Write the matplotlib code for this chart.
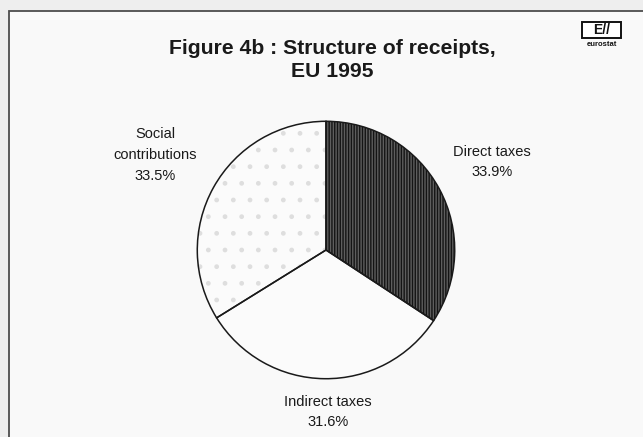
import matplotlib
matplotlib.use("Agg")
import matplotlib.pyplot as plt
from matplotlib.patches import Rectangle

# Receipts structure, EU 1995 (% of total receipts)
categories = ["Direct taxes", "Indirect taxes", "Social\ncontributions"]
shares = [33.9, 31.6, 33.5]
face_colors = ["#5e5e5e", "#fbfbfb", "#fbfbfb"]
hatch_colors = ["#141414", "#fbfbfb", "#dedede"]
hatches = ["||||||", None, "."]

title_lines = "Figure 4b : Structure of receipts,\nEU 1995"

W, H = 643, 437
DPI = 100
plt.rcParams["font.family"] = ["Liberation Sans", "DejaVu Sans"]
plt.rcParams["hatch.linewidth"] = 1.0

fig = plt.figure(figsize=(W / DPI, H / DPI), dpi=DPI, facecolor="#eeeeee")


def px(x, y):
    """Pixel position (from top-left) to figure fraction."""
    return x / W, 1 - y / H


# Outer panel frame
frame = Rectangle(px(9, H + 20), (W + 20) / W, (H + 20 - 11) / H,
                  transform=fig.transFigure, facecolor="#f9f9f9",
                  edgecolor="#4d4d4d", linewidth=1.3, zorder=-5)
fig.patches.append(frame)

# Title
fig.text(*px(332, 60), title_lines, ha="center", va="center",
         fontsize=15.2, fontweight="bold", color="#1a1a1a", linespacing=1.3)

# Logo
logo = Rectangle(px(582, 38), 39 / W, 16 / H, transform=fig.transFigure,
                 facecolor="white", edgecolor="#111111", linewidth=1.4,
                 zorder=3)
fig.patches.append(logo)
fig.text(*px(601.5, 30), "E//", ha="center", va="center", fontsize=10,
         fontweight="bold", color="#111111", zorder=4)
fig.text(*px(601.5, 44), "eurostat", ha="center", va="center", fontsize=5.5,
         fontweight="bold", color="#111111", zorder=4)

# Pie
cx, cy, r = 326, 250, 130
ax = fig.add_axes([(cx - r) / W, (H - cy - r) / H, 2 * r / W, 2 * r / H])
ax.set_zorder(2)
ax.set_facecolor("none")

wedges, _ = ax.pie(shares, startangle=90, counterclock=False,
                   colors=face_colors, radius=1.0,
                   wedgeprops=dict(linewidth=0))
for w, hc, hp in zip(wedges, hatch_colors, hatches):
    w.set_edgecolor(hc)
    w.set_linewidth(0)
    if hp:
        w.set_hatch(hp)

# Outlines on top
outline, _ = ax.pie(shares, startangle=90, counterclock=False, radius=1.0,
                    wedgeprops=dict(fill=False, edgecolor="#1a1a1a",
                                    linewidth=1.1))
ax.set_xlim(-1.01, 1.01)
ax.set_ylim(-1.01, 1.01)
ax.set_aspect("auto")
ax.axis("off")

# Slice labels
label_pos = [(492, 162), (328, 412), (155, 155)]
for name, val, (lx, ly) in zip(categories, shares, label_pos):
    fig.text(*px(lx, ly), f"{name}\n{val:.1f}%", ha="center", va="center",
             fontsize=10.5, color="#1a1a1a", linespacing=1.6, zorder=4)

fig.savefig("out.png", dpi=DPI, facecolor=fig.get_facecolor())
